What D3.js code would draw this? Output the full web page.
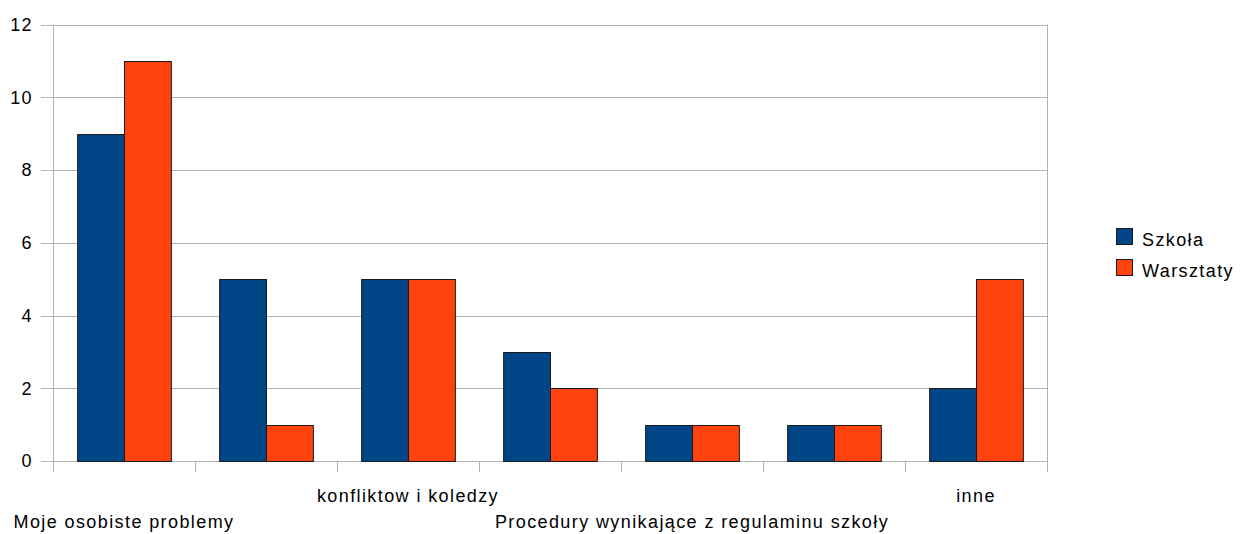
<!DOCTYPE html>
<html>
<head>
<meta charset="utf-8">
<script src="https://cdn.jsdelivr.net/npm/d3@7"></script>
<style>
  body { margin: 0; background: #fff; }
  svg { display: block; }
  text { font-family: "Liberation Sans", Arial, sans-serif; font-size: 18px; fill: #000; letter-spacing: 1.4px; }
</style>
</head>
<body>
<svg id="chart" width="1241" height="534"></svg>
<script>
// ---- data ----
const categories = ["Moje osobiste problemy", "", "konfliktow i koledzy", "", "Procedury wynikające z regulaminu szkoły", "", "inne"];
const seriesNames = ["Szkoła", "Warsztaty"];
const szkola = [9, 5, 5, 3, 1, 1, 2];
const warsztaty = [11, 1, 5, 2, 1, 1, 5];
const seriesColors = ["#004586", "#ff420e"];
const yTicks = [0, 2, 4, 6, 8, 10, 12];

const seriesValues = [szkola, warsztaty];

const svg = d3.select("#chart");
const plotLeft = 53, plotRight = 1047, plotTop = 24.5, plotBottom = 461;

const x0 = d3.scaleBand().domain(d3.range(categories.length)).range([plotLeft, plotRight])
  .paddingInner(0.34).paddingOuter(0.17);
const x1 = d3.scaleBand().domain(seriesNames).range([0, x0.bandwidth()]);
const y = d3.scaleLinear().domain([0, 12]).range([plotBottom, plotTop]);

// gridlines
svg.append("g").selectAll("line").data(yTicks).join("line")
  .attr("x1", plotLeft - 12).attr("x2", plotRight)
  .attr("y1", d => Math.round(y(d)) + 0.5).attr("y2", d => Math.round(y(d)) + 0.5)
  .attr("stroke", "#b3b3b3").attr("stroke-width", 1);

// y tick labels via axis
const yAxis = svg.append("g").attr("transform", `translate(${plotLeft - 12},0)`)
  .call(d3.axisLeft(y).tickValues(yTicks).tickSize(0).tickPadding(8).tickFormat(d3.format("d")));
yAxis.select(".domain").remove();
yAxis.selectAll("text").style("font-family", "Liberation Sans, Arial, sans-serif").style("font-size", "18px").attr("fill", "#000");

// vertical axis lines (left and right)
[plotLeft, plotRight].forEach(xv => {
  svg.append("line").attr("x1", Math.round(xv) + 0.5).attr("x2", Math.round(xv) + 0.5)
    .attr("y1", y(12)).attr("y2", plotBottom).attr("stroke", "#b3b3b3");
});

// category boundary ticks
const bounds = d3.range(categories.length + 1).map(i => plotLeft + i * x0.step());
svg.append("g").selectAll("line").data(bounds).join("line")
  .attr("x1", d => Math.round(d) + 0.5).attr("x2", d => Math.round(d) + 0.5)
  .attr("y1", plotBottom).attr("y2", plotBottom + 11)
  .attr("stroke", "#b3b3b3");

// bars
const groups = svg.append("g").selectAll("g").data(categories.map((c, i) => i)).join("g")
  .attr("transform", i => `translate(${x0(i)},0)`);
groups.selectAll("rect").data(i => seriesNames.map((s, k) => ({ s, k, v: seriesValues[k][i] }))).join("rect")
  .attr("x", d => x1(d.s) + 0.5)
  .attr("y", d => Math.round(y(d.v)) + 0.5)
  .attr("width", x1.bandwidth())
  .attr("height", d => Math.round(plotBottom) - Math.round(y(d.v)))
  .attr("fill", d => seriesColors[d.k])
  .attr("stroke", "#1a1a1a").attr("stroke-width", 1);

// category labels (staggered)
svg.append("g").selectAll("text").data(categories.map((c, i) => ({ c, i })).filter(d => d.c !== "")).join("text")
  .attr("x", d => x0(d.i) + x0.bandwidth() / 2)
  .attr("y", d => (Math.floor(d.i / 2) % 2 === 0) ? 528 : 502)
  .attr("text-anchor", "middle")
  .text(d => d.c);

// legend
const lg = svg.append("g").attr("transform", "translate(1116,228)");
seriesNames.forEach((s, k) => {
  lg.append("rect").attr("x", 0.5).attr("y", k * 31 + 0.5).attr("width", 16).attr("height", 16)
    .attr("fill", seriesColors[k]).attr("stroke", "#1a1a1a");
  lg.append("text").attr("x", 26).attr("y", k * 31 + 17.5).text(s);
});
</script>
</body>
</html>
